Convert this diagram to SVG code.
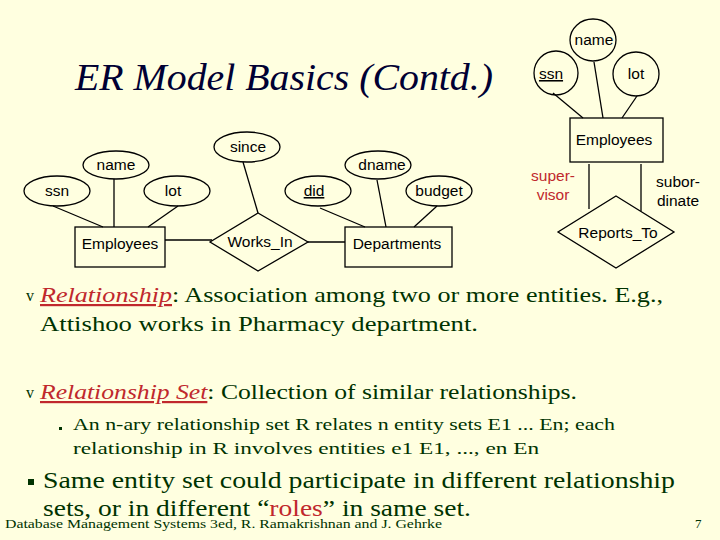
<svg xmlns="http://www.w3.org/2000/svg" width="720" height="540" viewBox="0 0 720 540">
<style>
.s{fill:none;stroke:#000;stroke-width:1.3}
.l{font-family:"Liberation Sans",Arial,sans-serif;font-size:15.5px;fill:#000;text-anchor:middle}
.t{font-family:"Liberation Serif","Times New Roman",serif;fill:#003300}
</style>
<rect width="720" height="540" fill="#FFFFE0"/>
<text x="75" y="90" font-family="Liberation Serif,serif" font-style="italic" font-size="38" fill="#000033" textLength="418" lengthAdjust="spacingAndGlyphs">ER Model Basics (Contd.)</text>
<g id="connectors" class="s">
<line x1="53" y1="206" x2="103" y2="227"/><line x1="114" y1="179" x2="114" y2="227"/><line x1="178" y1="206" x2="148" y2="227"/>
<line x1="165" y1="240" x2="212" y2="240"/><line x1="243" y1="162" x2="258" y2="213"/><line x1="308" y1="242" x2="345" y2="242"/>
<line x1="320" y1="208" x2="365" y2="227"/><line x1="377" y1="180" x2="386" y2="227"/><line x1="437" y1="206" x2="414" y2="227"/>
<line x1="553" y1="93" x2="583" y2="118"/><line x1="594" y1="62" x2="603" y2="118"/><line x1="637" y1="96" x2="622" y2="118"/>
<line x1="589" y1="164" x2="589" y2="209"/><line x1="641" y1="164" x2="641" y2="211"/>
</g>
<g id="ssn1"><ellipse class="s" cx="57" cy="191" rx="33" ry="15"/><text class="l" x="57" y="196">ssn</text></g>
<g id="name1"><ellipse class="s" cx="116" cy="165" rx="33" ry="14"/><text class="l" x="116" y="170">name</text></g>
<g id="lot1"><ellipse class="s" cx="177" cy="191" rx="33" ry="15"/><text class="l" x="173" y="196">lot</text></g>
<g id="emp1"><rect class="s" x="75" y="227" width="90" height="40"/><text class="l" x="120" y="249">Employees</text></g>
<g id="since"><ellipse class="s" cx="247" cy="147" rx="33" ry="15"/><text class="l" x="248" y="152">since</text></g>
<g id="works"><polygon class="s" points="258,213 308,242 258,271 210,242"/><text class="l" x="260" y="247">Works_In</text></g>
<g id="did"><ellipse class="s" cx="318" cy="191" rx="33" ry="15"/><text class="l" x="314" y="196" text-decoration="underline">did</text></g>
<g id="dname"><ellipse class="s" cx="378" cy="165" rx="33" ry="14"/><text class="l" x="382" y="170">dname</text></g>
<g id="budget"><ellipse class="s" cx="439" cy="191" rx="33" ry="15"/><text class="l" x="439" y="196">budget</text></g>
<g id="dept"><rect class="s" x="345" y="227" width="107" height="40"/><text class="l" x="397" y="249">Departments</text></g>
<g id="name2"><ellipse class="s" cx="593" cy="40" rx="23" ry="21"/><text class="l" x="594" y="45">name</text></g>
<g id="ssn2"><ellipse class="s" cx="556" cy="73" rx="22" ry="22"/><text class="l" x="551" y="79" text-decoration="underline">ssn</text></g>
<g id="lot2"><ellipse class="s" cx="636" cy="74" rx="23" ry="22"/><text class="l" x="636" y="79">lot</text></g>
<g id="emp2"><rect class="s" x="570" y="118" width="93" height="44"/><text class="l" x="614" y="145">Employees</text></g>
<g id="reports"><polygon class="s" points="616,196 674,232 616,268 558,232"/><text class="l" x="618" y="238">Reports_To</text></g>
<text class="l" x="553" y="181" style="fill:#c0282d">super-</text>
<text class="l" x="553" y="200" style="fill:#c0282d">visor</text>
<text class="l" x="678" y="187">subor-</text>
<text class="l" x="678" y="206">dinate</text>
<g class="t" font-size="22">
<text x="26" y="301" font-size="16">v</text>
<text x="40" y="302" textLength="623" lengthAdjust="spacingAndGlyphs"><tspan fill="#c0282d" font-style="italic" text-decoration="underline">Relationship</tspan>:  Association among two or more entities.  E.g.,</text>
<text x="40" y="331" textLength="438" lengthAdjust="spacingAndGlyphs">Attishoo works in Pharmacy department.</text>
<text x="26" y="398" font-size="16">v</text>
<text x="40" y="399" textLength="537" lengthAdjust="spacingAndGlyphs"><tspan fill="#c0282d" font-style="italic" text-decoration="underline">Relationship Set</tspan>:  Collection of similar relationships.</text>
<rect x="59" y="427" width="3" height="3" fill="#003300"/>
<text x="73" y="430" font-size="17" textLength="542" lengthAdjust="spacingAndGlyphs">An n-ary relationship set  R relates n entity sets E1 ... En; each</text>
<text x="73" y="454" font-size="17" textLength="466" lengthAdjust="spacingAndGlyphs">relationship in R involves entities e1    E1, ..., en    En</text>
<rect x="28" y="479" width="6" height="6" fill="#003300"/>
<text x="43" y="488" font-size="23" textLength="632" lengthAdjust="spacingAndGlyphs">Same entity set could participate in different relationship</text>
<text x="43" y="516" font-size="23" textLength="428" lengthAdjust="spacingAndGlyphs">sets, or in different “<tspan fill="#c0282d">roles</tspan>” in same set.</text>
<text x="5" y="528" font-size="13" textLength="437" lengthAdjust="spacingAndGlyphs">Database Management Systems 3ed,  R. Ramakrishnan and J. Gehrke</text>
<text x="695" y="528" font-size="13">7</text>
</g>
</svg>
